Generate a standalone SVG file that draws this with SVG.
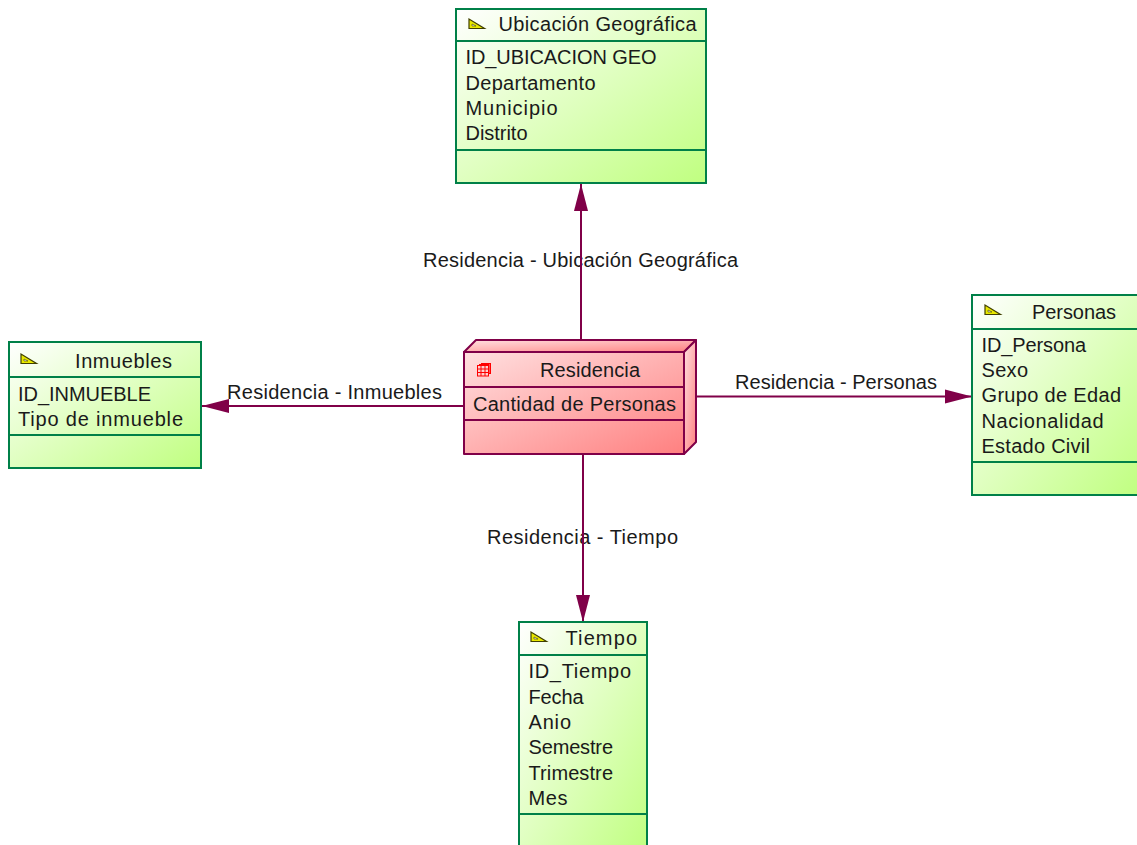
<svg xmlns="http://www.w3.org/2000/svg" width="1137" height="845" viewBox="0 0 1137 845">
<style>
text{font-family:"Liberation Sans",Arial,sans-serif;font-size:20px;fill:#1a1a1a}
.b{fill:url(#g);stroke:#008048;stroke-width:2}
.l{stroke:#008048;stroke-width:2;fill:none}
.m{stroke:#800048;stroke-width:2;fill:none}
.r{fill:url(#p);stroke:#800048;stroke-width:2;stroke-linejoin:round}
.c{stroke:#800048;stroke-width:2;fill:none}
.i{fill:#e8e800;stroke:#404000;stroke-width:1.200}
</style>
<defs>
<linearGradient id="g" x1="0" y1="0" x2="1" y2="1"><stop offset="0" stop-color="#fff"/><stop offset="1" stop-color="#c0ff80"/></linearGradient>
<linearGradient id="p" x1="0" y1="0" x2="1" y2="1"><stop offset="0" stop-color="#ffe0e0"/><stop offset="1" stop-color="#ff8080"/></linearGradient>
<marker id="a" markerUnits="userSpaceOnUse" markerWidth="28" markerHeight="20" refX="27" refY="10" orient="auto"><path d="M0 3L27 10L0 17Z" fill="#800048"/></marker>
<g id="tri"><path class="i" d="M0 -1V8.500H15.500Z"/><path d="M3 4V6H7Z" fill="#fff" stroke="#404000" stroke-width=".6"/></g>
</defs>
<g id="connector-labels">
<text x="423" y="267" textLength="315">Residencia - Ubicación Geográfica</text>
<text x="227" y="399" textLength="215">Residencia - Inmuebles</text>
<text x="735" y="389" textLength="202">Residencia - Personas</text>
<text x="487" y="544" textLength="191">Residencia - Tiempo</text>
</g>
<g id="connectors">
<path class="c" marker-end="url(#a)" d="M581 340V184"/>
<path class="c" marker-end="url(#a)" d="M464 406H202"/>
<path class="c" marker-end="url(#a)" d="M696 396.500H972"/>
<path class="c" marker-end="url(#a)" d="M583 454V622"/>
</g>
<g id="ubicacion">
<rect class="b" x="456" y="9" width="250" height="174"/>
<path class="l" d="M456 41H706M456 150H706"/>
<use href="#tri" x="469" y="20"/>
<text x="498.500" y="31" textLength="198">Ubicación Geográfica</text>
<text x="465.500" y="64" textLength="191">ID_UBICACION GEO</text>
<text x="465.500" y="90" textLength="130">Departamento</text>
<text x="465.500" y="115" textLength="92">Municipio</text>
<text x="465.500" y="140" textLength="62">Distrito</text>
</g>
<g id="inmuebles">
<rect class="b" x="9" y="342" width="192" height="126"/>
<path class="l" d="M9 377H201M9 435H201"/>
<use href="#tri" x="21" y="355"/>
<text x="75" y="368" textLength="97">Inmuebles</text>
<text x="18" y="401" textLength="133">ID_INMUEBLE</text>
<text x="18" y="426" textLength="165">Tipo de inmueble</text>
</g>
<g id="personas">
<rect class="b" x="972" y="295" width="168" height="200"/>
<path class="l" d="M972 329H1140M972 462H1140"/>
<use href="#tri" x="985" y="306"/>
<text x="1032" y="319" textLength="84">Personas</text>
<text x="981.500" y="352" textLength="104.500">ID_Persona</text>
<text x="981.500" y="377" textLength="46.500">Sexo</text>
<text x="981.500" y="402" textLength="139.500">Grupo de Edad</text>
<text x="981.500" y="428" textLength="122">Nacionalidad</text>
<text x="981.500" y="453" textLength="108.500">Estado Civil</text>
</g>
<g id="tiempo">
<rect class="b" x="519" y="622" width="128" height="230"/>
<path class="l" d="M519 655H647M519 814H647"/>
<use href="#tri" x="531" y="633"/>
<text x="565.500" y="645" textLength="71.500">Tiempo</text>
<text x="528.500" y="678" textLength="102.500">ID_Tiempo</text>
<text x="528.500" y="704" textLength="55">Fecha</text>
<text x="528.500" y="729" textLength="42.500">Anio</text>
<text x="528.500" y="754" textLength="84.500">Semestre</text>
<text x="528.500" y="780" textLength="84.500">Trimestre</text>
<text x="528.500" y="805" textLength="39">Mes</text>
</g>
<g id="residencia">
<path class="r" d="M464 352L476 340H696L684 352Z"/>
<path class="r" d="M684 352L696 340V442L684 454Z"/>
<rect class="r" x="464" y="352" width="220" height="102"/>
<path class="m" d="M464 387H684M464 420H684"/>
<g stroke="#ff0000" stroke-width="1" fill="#ff5050"><rect x="481.500" y="363.500" width="9" height="10"/><rect x="479.500" y="364.500" width="9" height="10"/><rect x="477.500" y="365.500" width="11" height="10.500" fill="#ffd0d0"/><path d="M481 365.500V376M485 365.500V376M477.500 369H488.500M477.500 372.500H488.500" fill="none"/></g>
<text x="540" y="377" textLength="100">Residencia</text>
<text x="473" y="411" textLength="203">Cantidad de Personas</text>
</g>
</svg>
